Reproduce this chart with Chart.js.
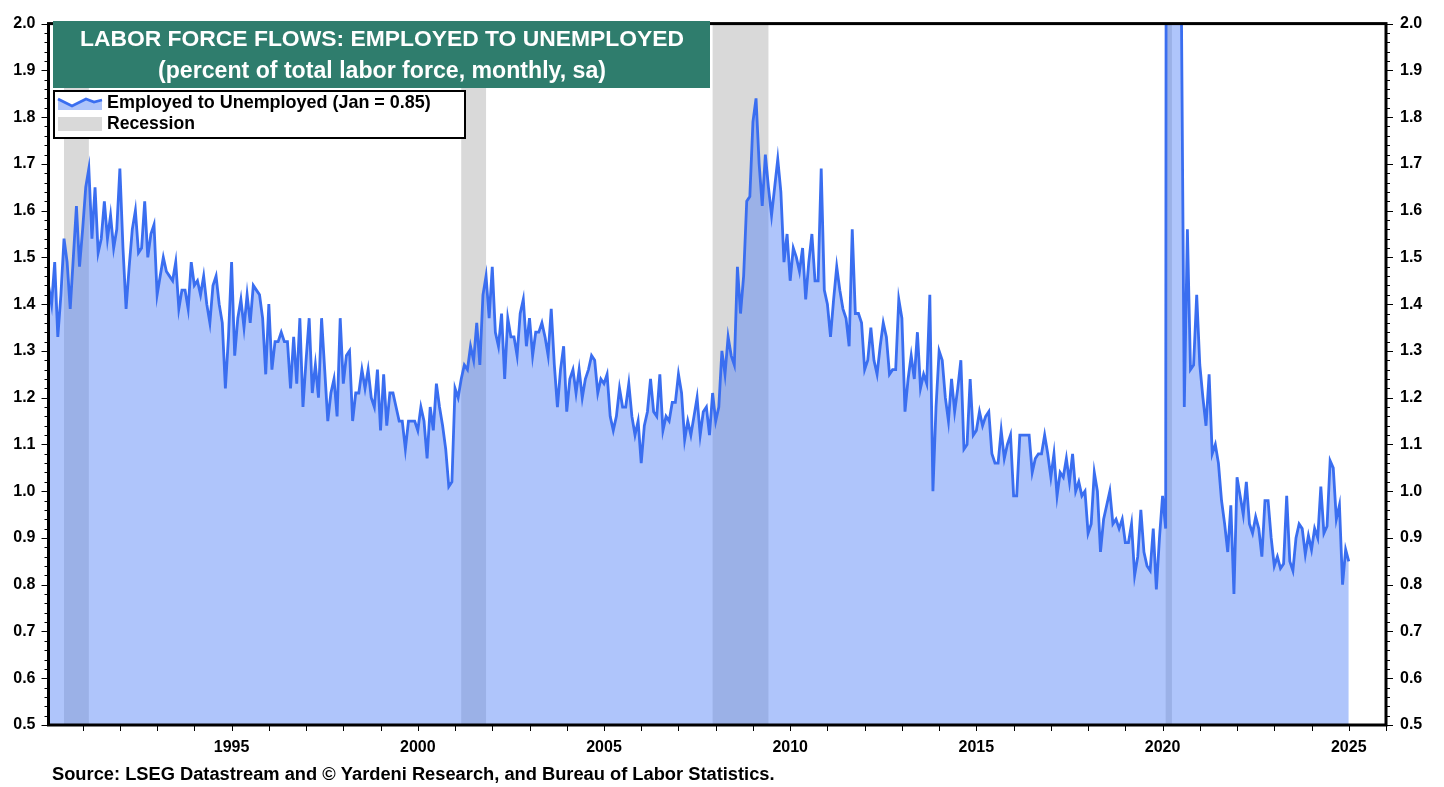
<!DOCTYPE html>
<html>
<head>
<meta charset="utf-8">
<script src="https://cdn.jsdelivr.net/npm/chart.js@4.4.1/dist/chart.umd.min.js"></script>
<style>
  html, body { margin: 0; padding: 0; background: #fff; }
  #wrap { width: 1444px; height: 787px; position: relative; }
</style>
</head>
<body>
<div id="wrap"><canvas id="flows"></canvas></div>
<script>
// ---- data (monthly, sa; first value = Feb 1990) ----
const seriesStartYear = 1990;
const seriesStartMonth = 2;
const employedToUnemployed = [
  /*1990*/ 1.44, 1.40, 1.49, 1.33, 1.42, 1.54, 1.49, 1.39, 1.50, 1.61, 1.48,
  /*1991*/ 1.56, 1.65, 1.69, 1.54, 1.65, 1.51, 1.54, 1.62, 1.54, 1.59, 1.52, 1.56,
  /*1992*/ 1.69, 1.52, 1.39, 1.48, 1.56, 1.60, 1.51, 1.52, 1.62, 1.50, 1.55, 1.57,
  /*1993*/ 1.42, 1.46, 1.50, 1.47, 1.46, 1.45, 1.49, 1.39, 1.43, 1.43, 1.39, 1.49,
  /*1994*/ 1.44, 1.45, 1.42, 1.46, 1.40, 1.36, 1.44, 1.46, 1.40, 1.36, 1.22, 1.33,
  /*1995*/ 1.49, 1.29, 1.37, 1.41, 1.35, 1.42, 1.36, 1.44, 1.43, 1.42, 1.37, 1.25,
  /*1996*/ 1.40, 1.26, 1.32, 1.32, 1.34, 1.32, 1.32, 1.22, 1.33, 1.23, 1.37, 1.18,
  /*1997*/ 1.28, 1.37, 1.21, 1.27, 1.20, 1.37, 1.26, 1.15, 1.21, 1.24, 1.16, 1.37,
  /*1998*/ 1.23, 1.29, 1.30, 1.15, 1.21, 1.21, 1.26, 1.22, 1.26, 1.20, 1.18, 1.26,
  /*1999*/ 1.13, 1.25, 1.14, 1.21, 1.21, 1.18, 1.15, 1.15, 1.09, 1.15, 1.15, 1.15,
  /*2000*/ 1.13, 1.18, 1.15, 1.07, 1.18, 1.13, 1.23, 1.18, 1.14, 1.09, 1.01, 1.02,
  /*2001*/ 1.22, 1.20, 1.24, 1.27, 1.26, 1.31, 1.28, 1.36, 1.27, 1.42, 1.46, 1.37,
  /*2002*/ 1.48, 1.34, 1.31, 1.38, 1.24, 1.37, 1.33, 1.33, 1.29, 1.38, 1.41, 1.31,
  /*2003*/ 1.37, 1.29, 1.34, 1.34, 1.36, 1.33, 1.29, 1.39, 1.27, 1.18, 1.26, 1.31,
  /*2004*/ 1.17, 1.24, 1.26, 1.21, 1.26, 1.20, 1.24, 1.26, 1.29, 1.28, 1.21, 1.24,
  /*2005*/ 1.23, 1.25, 1.16, 1.13, 1.16, 1.22, 1.18, 1.18, 1.23, 1.16, 1.12, 1.15,
  /*2006*/ 1.06, 1.14, 1.17, 1.24, 1.17, 1.16, 1.25, 1.13, 1.16, 1.15, 1.19, 1.19,
  /*2007*/ 1.25, 1.21, 1.11, 1.15, 1.12, 1.16, 1.20, 1.12, 1.17, 1.18, 1.12, 1.21,
  /*2008*/ 1.15, 1.18, 1.30, 1.25, 1.33, 1.29, 1.27, 1.48, 1.38, 1.46, 1.62, 1.63,
  /*2009*/ 1.79, 1.84, 1.70, 1.61, 1.72, 1.65, 1.59, 1.65, 1.71, 1.64, 1.49, 1.55,
  /*2010*/ 1.45, 1.52, 1.50, 1.47, 1.52, 1.41, 1.49, 1.55, 1.45, 1.45, 1.69, 1.43,
  /*2011*/ 1.40, 1.33, 1.41, 1.48, 1.43, 1.39, 1.37, 1.31, 1.56, 1.38, 1.38, 1.36,
  /*2012*/ 1.26, 1.28, 1.35, 1.28, 1.25, 1.31, 1.36, 1.33, 1.25, 1.26, 1.26, 1.41,
  /*2013*/ 1.37, 1.17, 1.24, 1.29, 1.24, 1.34, 1.22, 1.25, 1.23, 1.42, 1.00, 1.18,
  /*2014*/ 1.30, 1.28, 1.20, 1.15, 1.24, 1.17, 1.22, 1.28, 1.09, 1.10, 1.24, 1.12,
  /*2015*/ 1.13, 1.17, 1.14, 1.16, 1.17, 1.08, 1.06, 1.06, 1.13, 1.07, 1.10, 1.12,
  /*2016*/ 0.99, 0.99, 1.12, 1.12, 1.12, 1.12, 1.04, 1.07, 1.08, 1.08, 1.12, 1.08,
  /*2017*/ 1.03, 1.08, 0.99, 1.04, 1.03, 1.07, 1.02, 1.08, 1.00, 1.02, 0.99, 1.00,
  /*2018*/ 0.91, 0.93, 1.04, 1.00, 0.87, 0.94, 0.97, 1.00, 0.93, 0.94, 0.92, 0.94,
  /*2019*/ 0.89, 0.89, 0.93, 0.82, 0.86, 0.96, 0.87, 0.84, 0.83, 0.92, 0.79, 0.90,
  /*2020*/ 0.99, 0.92, 9.50, 5.00, 3.20, 2.60, 2.10, 1.18, 1.56, 1.26, 1.27, 1.42,
  /*2021*/ 1.27, 1.20, 1.14, 1.25, 1.08, 1.10, 1.06, 0.98, 0.93, 0.87, 0.97, 0.78,
  /*2022*/ 1.03, 0.99, 0.95, 1.02, 0.93, 0.91, 0.945, 0.92, 0.86, 0.98, 0.98, 0.90,
  /*2023*/ 0.84, 0.86, 0.835, 0.845, 0.99, 0.85, 0.83, 0.90, 0.93, 0.92, 0.865, 0.905,
  /*2024*/ 0.875, 0.92, 0.90, 1.01, 0.91, 0.925, 1.065, 1.05, 0.94, 0.97, 0.80, 0.875,
  /*2025*/ 0.85
];
const recessionStarts = ['1990-07', '2001-03', '2007-12', '2020-02'];
const recessionEnds   = ['1991-03', '2001-11', '2009-06', '2020-04'];
const xTickYears = [1995, 2000, 2005, 2010, 2015, 2020, 2025];
const yTickValues = [0.5, 0.6, 0.7, 0.8, 0.9, 1.0, 1.1, 1.2, 1.3, 1.4, 1.5, 1.6, 1.7, 1.8, 1.9, 2.0];

const titleLine1 = 'LABOR FORCE FLOWS: EMPLOYED TO UNEMPLOYED';
const titleLine2 = '(percent of total labor force, monthly, sa)';
const seriesLabel = 'Employed to Unemployed (Jan = 0.85)';
const recessionLabel = 'Recession';
const sourceText = 'Source: LSEG Datastream and \u00A9 Yardeni Research, and Bureau of Labor Statistics.';

// ---- helpers ----
const FONT = "'Liberation Sans', Arial, Helvetica, sans-serif";
const LINE_BLUE = '#3a6ef0';
const FILL_BLUE = 'rgba(84,131,247,0.47)';
const TITLE_GREEN = '#2f7d6d';

function monthToYear(s) {
  const [yy, mm] = s.split('-').map(Number);
  return yy + (mm - 1) / 12;
}

const points = employedToUnemployed.map((v, i) => ({
  x: seriesStartYear + (seriesStartMonth - 1 + i) / 12,
  y: v
}));

// draw bold text squeezed/stretched to a target width
function fitText(ctx, text, x, y, targetW, baseSize, align) {
  ctx.font = 'bold ' + baseSize + 'px ' + FONT;
  const w = ctx.measureText(text).width;
  const size = baseSize * targetW / w;
  ctx.font = 'bold ' + size.toFixed(2) + 'px ' + FONT;
  ctx.textAlign = align || 'left';
  ctx.textBaseline = 'middle';
  ctx.fillText(text, x, y);
}

// ---- plugins ----
const recessionBands = {
  id: 'recessionBands',
  beforeDatasetsDraw(chart) {
    const { ctx, chartArea: a, scales: { x } } = chart;
    ctx.save();
    ctx.fillStyle = '#d9d9d9';
    recessionStarts.forEach((s, i) => {
      const x0 = x.getPixelForValue(monthToYear(s));
      const x1 = x.getPixelForValue(monthToYear(recessionEnds[i]));
      ctx.fillRect(x0, a.top, x1 - x0, a.bottom - a.top);
    });
    ctx.restore();
  }
};

const frameTicks = {
  id: 'frameTicks',
  afterDatasetsDraw(chart) {
    const { ctx, chartArea: a, scales: { x, y } } = chart;
    ctx.save();
    ctx.strokeStyle = '#000';
    ctx.lineWidth = 1;
    ctx.beginPath();
    // minor ticks every 0.02, major every 0.1, on both sides
    for (let i = 0; i <= 75; i++) {
      const v = 0.5 + i * 0.02;
      const py = Math.round(y.getPixelForValue(v)) + 0.5;
      const len = i % 5 === 0 ? 7 : 4;
      ctx.moveTo(a.left - len, py); ctx.lineTo(a.left, py);
      ctx.moveTo(a.right, py); ctx.lineTo(a.right + len, py);
    }
    // yearly ticks under the axis
    for (let yr = 1991; yr <= 2026; yr++) {
      const px = Math.round(x.getPixelForValue(yr)) + 0.5;
      ctx.moveTo(px, a.bottom); ctx.lineTo(px, a.bottom + 6);
    }
    ctx.stroke();
    ctx.lineWidth = 3;
    ctx.strokeRect(a.left, a.top, a.right - a.left, a.bottom - a.top);
    ctx.restore();
  }
};

const titleLegend = {
  id: 'titleLegend',
  afterDraw(chart) {
    const ctx = chart.ctx;
    ctx.save();
    // title box
    ctx.fillStyle = TITLE_GREEN;
    ctx.fillRect(53, 21, 657, 67);
    ctx.fillStyle = '#fff';
    fitText(ctx, titleLine1, 382, 40, 604, 22, 'center');
    fitText(ctx, titleLine2, 382, 72, 448, 20, 'center');

    // legend box
    ctx.fillStyle = '#fff';
    ctx.fillRect(54, 91, 411, 47);
    ctx.strokeStyle = '#000';
    ctx.lineWidth = 2;
    ctx.strokeRect(54, 91, 411, 47);

    // area swatch
    const sw = [[58, 99], [72, 106], [86, 99], [94, 102], [102, 100]];
    ctx.beginPath();
    ctx.moveTo(58, 110);
    sw.forEach(p => ctx.lineTo(p[0], p[1]));
    ctx.lineTo(102, 110);
    ctx.closePath();
    ctx.fillStyle = '#aec4fa';
    ctx.fill();
    ctx.beginPath();
    sw.forEach((p, i) => i ? ctx.lineTo(p[0], p[1]) : ctx.moveTo(p[0], p[1]));
    ctx.strokeStyle = LINE_BLUE;
    ctx.lineWidth = 2.8;
    ctx.stroke();
    // recession swatch
    ctx.fillStyle = '#d9d9d9';
    ctx.fillRect(58, 117, 44, 14);

    ctx.fillStyle = '#000';
    fitText(ctx, seriesLabel, 107, 103, 324, 16, 'left');
    fitText(ctx, recessionLabel, 107, 124, 88, 16, 'left');

    // source line
    fitText(ctx, sourceText, 52, 775, 723, 15, 'left');
    ctx.restore();
  }
};

// ---- chart ----
const tickFont = { family: FONT, size: 16, weight: 'bold' };

new Chart(document.getElementById('flows'), {
  type: 'line',
  data: {
    datasets: [{
      label: seriesLabel,
      data: points,
      borderColor: LINE_BLUE,
      backgroundColor: FILL_BLUE,
      borderWidth: 2.8,
      pointRadius: 0,
      tension: 0,
      fill: 'start'
    }]
  },
  options: {
    responsive: true,
    maintainAspectRatio: false,
    animation: false,
    layout: { padding: { top: 17, left: 0, right: 0, bottom: 0 } },
    plugins: {
      legend: { display: false },
      tooltip: { enabled: false }
    },
    scales: {
      x: {
        type: 'linear',
        min: seriesStartYear + (seriesStartMonth - 1) / 12,
        max: 2026,
        grid: { display: false, drawTicks: false },
        border: { display: false },
        afterBuildTicks: s => { s.ticks = xTickYears.map(v => ({ value: v })); },
        afterFit: s => { s.height = 62; },
        ticks: {
          font: tickFont,
          color: '#000',
          padding: 13,
          maxRotation: 0,
          autoSkip: false,
          callback: v => String(v)
        }
      },
      y: {
        position: 'left',
        min: 0.5,
        max: 2.0,
        grid: { display: false, drawTicks: false },
        border: { display: false },
        afterBuildTicks: s => { s.ticks = yTickValues.map(v => ({ value: v })); },
        afterFit: s => { s.width = 48.5; },
        ticks: {
          font: tickFont,
          color: '#000',
          padding: 13,
          autoSkip: false,
          callback: v => Number(v).toFixed(1)
        }
      },
      y2: {
        position: 'right',
        min: 0.5,
        max: 2.0,
        grid: { display: false, drawTicks: false },
        border: { display: false },
        afterBuildTicks: s => { s.ticks = yTickValues.map(v => ({ value: v })); },
        afterFit: s => { s.width = 58; },
        ticks: {
          font: tickFont,
          color: '#000',
          padding: 14,
          autoSkip: false,
          callback: v => Number(v).toFixed(1)
        }
      }
    }
  },
  plugins: [recessionBands, frameTicks, titleLegend]
});
</script>
</body>
</html>
